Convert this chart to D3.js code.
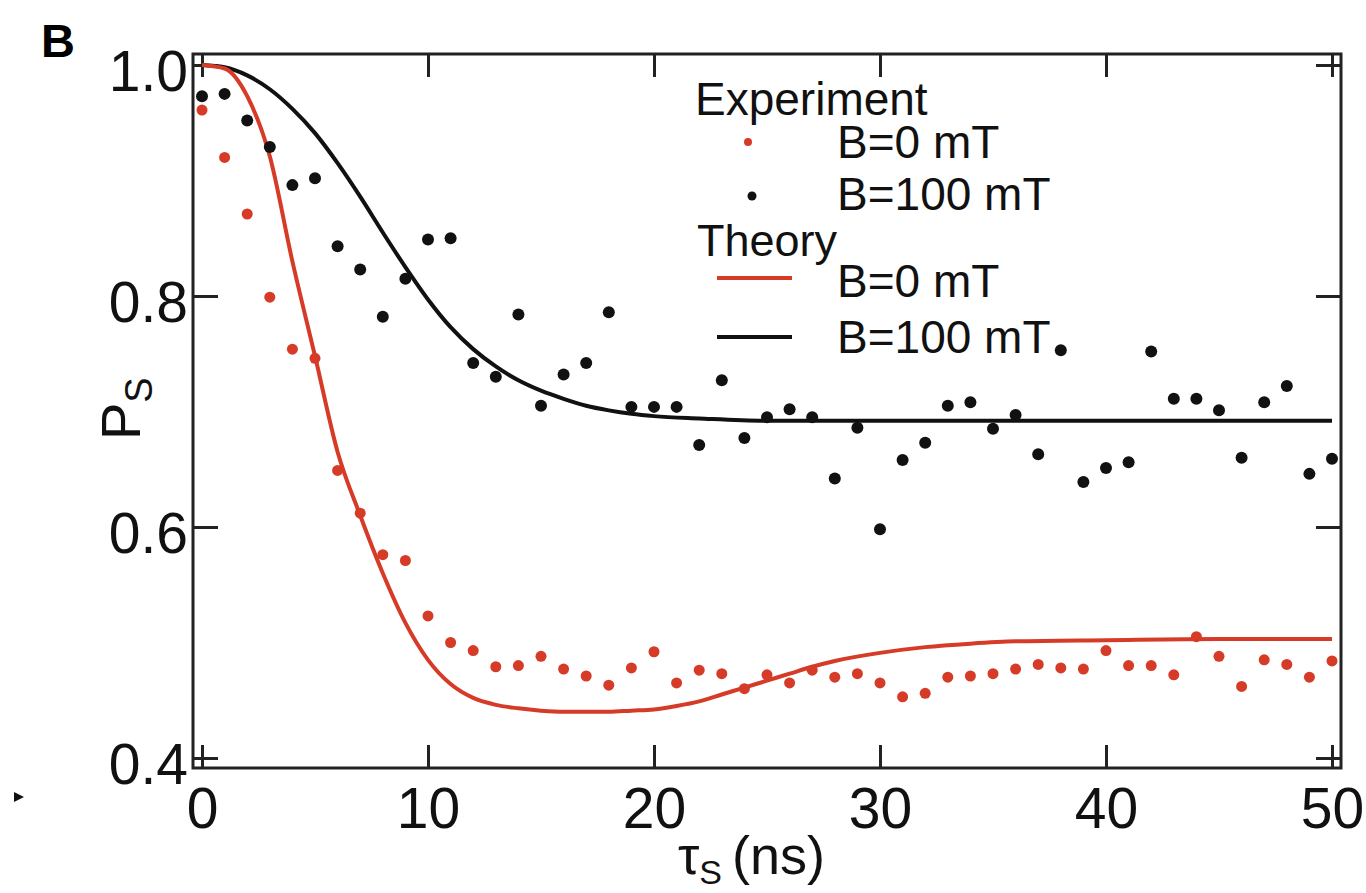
<!DOCTYPE html>
<html>
<head>
<meta charset="utf-8">
<script src="https://cdn.jsdelivr.net/npm/d3@7/dist/d3.min.js"></script>
<style>
  html, body { margin: 0; padding: 0; background: #fff; }
  svg { display: block; font-family: "Liberation Sans", Arial, Helvetica, sans-serif; }
</style>
</head>
<body>
<div id="chart"></div>
<script>
// measured singlet probability vs. delay (ns), one point per ns
const delays = d3.range(0, 51);
const expB0 = [0.961, 0.920, 0.871, 0.799, 0.754, 0.746, 0.649, 0.612, 0.576, 0.571,
  0.523, 0.500, 0.493, 0.479, 0.480, 0.488, 0.477, 0.471, 0.463, 0.478,
  0.492, 0.465, 0.476, 0.473, 0.460, 0.472, 0.465, 0.476, 0.470, 0.473,
  0.465, 0.453, 0.456, 0.470, 0.471, 0.473, 0.477, 0.481, 0.478, 0.477,
  0.493, 0.480, 0.480, 0.472, 0.505, 0.488, 0.462, 0.485, 0.481, 0.470, 0.484];
const expB100 = [0.973, 0.975, 0.952, 0.929, 0.896, 0.902, 0.843, 0.823, 0.782, 0.815,
  0.849, 0.850, 0.742, 0.730, 0.784, 0.705, 0.732, 0.742, 0.786, 0.704,
  0.704, 0.704, 0.671, 0.727, 0.677, 0.695, 0.702, 0.695, 0.642, 0.686,
  0.598, 0.658, 0.673, 0.705, 0.708, 0.685, 0.697, 0.663, 0.753, 0.639,
  0.651, 0.656, 0.752, 0.711, 0.711, 0.701, 0.660, 0.708, 0.722, 0.646, 0.659];

// theory curves
const theoryB0T = [0, 1, 2, 3, 4, 5, 6, 7, 8, 9, 10, 11, 12, 13, 14, 15, 16, 18, 19, 20, 21, 22, 23, 24, 25, 26,
  27, 28, 30, 32, 34, 36, 40, 45, 50];
const theoryB0 = [1.0, 0.997, 0.973, 0.921, 0.830, 0.748, 0.665, 0.610, 0.560, 0.517, 0.485, 0.464, 0.452, 0.446,
  0.443, 0.441, 0.440, 0.440, 0.441, 0.442, 0.445, 0.449, 0.455, 0.461, 0.467, 0.473, 0.479, 0.484, 0.491, 0.496,
  0.499, 0.501, 0.502, 0.503, 0.503];
const theoryB100T = [0, 1, 2, 3, 4, 5, 6, 7, 8, 9, 10, 11, 12, 13, 14, 15, 16, 17, 18, 19, 20, 22, 25, 30, 40, 50];
const theoryB100 = [1.0, 0.998, 0.991, 0.979, 0.962, 0.941, 0.915, 0.886, 0.855, 0.825, 0.797, 0.773, 0.754, 0.739,
  0.727, 0.718, 0.711, 0.705, 0.701, 0.698, 0.696, 0.694, 0.692, 0.692, 0.692, 0.692];

const xTicks = [0, 10, 20, 30, 40, 50];
const yTicks = [0.4, 0.6, 0.8, 1.0];

const RED = '#d63b28';
const BLACK = '#111';

const width = 1366, height = 893;
const frame = { left: 193, right: 1341, top: 54, bottom: 768 };

const svg = d3.select('#chart').append('svg')
  .attr('width', width)
  .attr('height', height);

const x = d3.scaleLinear().domain([0, 50]).range([202, 1332]);
const y = d3.scaleLinear().domain([0.4, 1.0]).range([758, 65]);

// panel letter
svg.append('text')
  .attr('x', 41).attr('y', 57)
  .attr('font-size', 47).attr('font-weight', 'bold')
  .text('B');

// axes (ticks point inward, labels on bottom and left only)
svg.append('g')
  .attr('transform', `translate(0,${frame.bottom})`)
  .call(d3.axisBottom(x).tickValues(xTicks).tickSize(-23).tickPadding(20).tickFormat(d3.format('d')));

svg.append('g')
  .attr('transform', `translate(0,${frame.top})`)
  .call(d3.axisTop(x).tickValues(xTicks).tickSize(-23).tickFormat(''));

const leftAxis = svg.append('g')
  .attr('transform', `translate(${frame.left},0)`)
  .call(d3.axisLeft(y).tickValues(yTicks).tickSize(-25).tickPadding(5).tickFormat(d3.format('.1f')));

svg.append('g')
  .attr('transform', `translate(${frame.right},0)`)
  .call(d3.axisRight(y).tickValues(yTicks).tickSize(-25).tickFormat(''));

svg.selectAll('.domain').remove();
svg.selectAll('.tick line').attr('stroke', '#222').attr('stroke-width', 3);
svg.selectAll('.tick text')
  .attr('fill', '#111')
  .attr('font-size', 57)
  .attr('font-family', '"Liberation Sans", Arial, sans-serif');
leftAxis.selectAll('.tick text').attr('dy', '0.45em');

svg.append('rect')
  .attr('x', frame.left).attr('y', frame.top)
  .attr('width', frame.right - frame.left)
  .attr('height', frame.bottom - frame.top)
  .attr('fill', 'none')
  .attr('stroke', '#222')
  .attr('stroke-width', 3);

// theory curves
const line = d3.line()
  .x(d => x(d[0]))
  .y(d => y(d[1]))
  .curve(d3.curveMonotoneX);

svg.append('path')
  .datum(d3.zip(theoryB100T, theoryB100))
  .attr('d', line)
  .attr('fill', 'none')
  .attr('stroke', BLACK)
  .attr('stroke-width', 4);

svg.append('path')
  .datum(d3.zip(theoryB0T, theoryB0))
  .attr('d', line)
  .attr('fill', 'none')
  .attr('stroke', RED)
  .attr('stroke-width', 4);

// experiment points
svg.append('g').selectAll('circle')
  .data(d3.zip(delays, expB100))
  .enter().append('circle')
  .attr('cx', d => x(d[0]))
  .attr('cy', d => y(d[1]))
  .attr('r', 6)
  .attr('fill', BLACK);

svg.append('g').selectAll('circle')
  .data(d3.zip(delays, expB0))
  .enter().append('circle')
  .attr('cx', d => x(d[0]))
  .attr('cy', d => y(d[1]))
  .attr('r', 5.5)
  .attr('fill', RED);

// legend
const legend = svg.append('g').attr('font-size', 46).attr('fill', '#111');

legend.append('text').attr('x', 695).attr('y', 115).text('Experiment');
legend.append('circle').attr('cx', 748).attr('cy', 142).attr('r', 4).attr('fill', RED);
legend.append('text').attr('x', 837).attr('y', 158).text('B=0 mT');
legend.append('circle').attr('cx', 752).attr('cy', 196).attr('r', 4.5).attr('fill', BLACK);
legend.append('text').attr('x', 837).attr('y', 210).text('B=100 mT');

legend.append('text').attr('x', 697).attr('y', 256).attr('font-size', 45).text('Theory');
legend.append('line').attr('x1', 717).attr('x2', 792).attr('y1', 278).attr('y2', 278)
  .attr('stroke', RED).attr('stroke-width', 4);
legend.append('text').attr('x', 837).attr('y', 297).text('B=0 mT');
legend.append('line').attr('x1', 717).attr('x2', 792).attr('y1', 337).attr('y2', 337)
  .attr('stroke', BLACK).attr('stroke-width', 4);
legend.append('text').attr('x', 837).attr('y', 353).text('B=100 mT');

// axis titles
const xTitle = svg.append('text')
  .attr('x', 678).attr('y', 874)
  .attr('font-size', 54).attr('fill', '#111');
xTitle.append('tspan').text('τ');
xTitle.append('tspan').attr('font-size', 34).attr('dy', 10).text('S');
xTitle.append('tspan').attr('dy', -10).attr('dx', 10).text('(ns)');

const yTitle = svg.append('text')
  .attr('transform', 'translate(140,440) rotate(-90)')
  .attr('font-size', 56).attr('fill', '#111');
yTitle.append('tspan').text('P');
yTitle.append('tspan').attr('font-size', 38).attr('dy', 12).text('S');

// small stray marker at left edge
svg.append('path')
  .attr('d', 'M14,792 L24,797 L14,802 Z')
  .attr('fill', '#111');
</script>
</body>
</html>
